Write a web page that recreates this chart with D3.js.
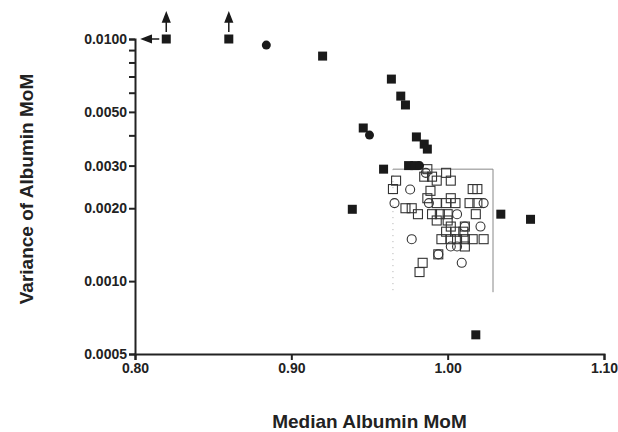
<!DOCTYPE html>
<html>
<head>
<meta charset="utf-8">
<script src="https://cdn.jsdelivr.net/npm/d3@7"></script>
<style>
    body { margin: 0; background: #fff; }
    svg { display: block; }
    .axis text { font-family: "Liberation Sans", Arial, sans-serif; font-weight: bold; font-size: 14px; fill: #222; }
    .axis path, .axis line { stroke: #222; stroke-width: 2px; }
    .title { font-family: "Liberation Sans", Arial, sans-serif; font-weight: bold; font-size: 19px; fill: #222; }
</style>
</head>
<body>
<div id="chart_panel"></div>
<script>

// axis ticks
const xTicks = [0.80, 0.90, 1.00, 1.10];
const yTicks = [0.0005, 0.0010, 0.0020, 0.0030, 0.0050, 0.0100];
const yMinorTicks = [0.004, 0.006, 0.007, 0.008, 0.009];

// [median MoM, variance]
const filledSquares = [
    [0.820, 0.0100], [0.860, 0.0100], [0.920, 0.0085], [0.964, 0.00683],
    [0.970, 0.00581], [0.973, 0.00534], [0.946, 0.00429], [0.980, 0.00394],
    [0.985, 0.00368], [0.987, 0.00351], [0.959, 0.0029], [0.975, 0.0030],
    [0.979, 0.0030], [0.939, 0.00198], [1.034, 0.00189], [1.053, 0.0018],
    [1.018, 0.0006]
];
const filledCircles = [
    [0.884, 0.00944], [0.950, 0.00401], [0.982, 0.0030]
];
const openSquares = [
    [0.987, 0.0029], [0.999, 0.0028], [0.967, 0.0026], [0.985, 0.0027],
    [0.990, 0.0027], [0.993, 0.0026], [1.002, 0.0026], [0.965, 0.0024],
    [0.989, 0.00236], [1.016, 0.0024], [1.019, 0.0024], [0.987, 0.0022],
    [1.002, 0.0022], [0.973, 0.0020], [0.977, 0.0020], [0.981, 0.00189],
    [0.993, 0.0021], [0.999, 0.0021], [1.005, 0.0021], [1.014, 0.0021],
    [1.019, 0.0021], [0.990, 0.00189], [0.995, 0.00189], [1.000, 0.00189],
    [1.018, 0.00189], [0.993, 0.00178], [1.000, 0.00178], [1.002, 0.00168],
    [1.011, 0.00168], [0.999, 0.0016], [1.005, 0.0016], [1.010, 0.0016],
    [0.996, 0.00149], [1.002, 0.00149], [1.006, 0.00149], [1.011, 0.00149],
    [1.016, 0.00149], [1.023, 0.00149], [1.011, 0.00139], [0.994, 0.00129],
    [0.984, 0.00119], [0.982, 0.00109]
];
const openCircles = [
    [0.976, 0.00239], [0.966, 0.0021], [0.988, 0.0021], [1.006, 0.00189],
    [1.023, 0.0021], [1.021, 0.00168], [0.977, 0.00149], [1.002, 0.00139],
    [1.006, 0.00139], [1.009, 0.00119], [1.011, 0.00168], [0.994, 0.00129],
    [0.986, 0.0028]
];

// points off scale (drawn with arrows)
const offScaleUp = [[0.820, 0.0100], [0.860, 0.0100]];
const offScaleLeft = [[0.820, 0.0100]];

// reference box
const refBoxX = [0.965, 1.029];
const refBoxY = [0.0009, 0.0029];

let width = 618, height = 432;
let margin = {left: 135, right: 14, top: 39, bottom: 78};

let svg = d3.select('#chart_panel')
    .append('svg')
    .attr('width', width)
    .attr('height', height);

let x = d3.scaleLinear()
    .domain([xTicks[0], xTicks[xTicks.length - 1]])
    .range([margin.left, width - margin.right]);

let y = d3.scaleLog()
    .domain([yTicks[0], yTicks[yTicks.length - 1]])
    .range([height - margin.bottom, margin.top]);

//reference box: top and right solid, left dotted
let bx0 = x(refBoxX[0]), bx1 = x(refBoxX[1]);
let by0 = y(refBoxY[1]), by1 = y(refBoxY[0]);
svg.append('path')
    .attr('d', `M${bx0},${by0}H${bx1}V${by1}`)
    .style('fill', 'none')
    .style('stroke', '#888')
    .style('stroke-width', 1);
svg.append('line')
    .attr('x1', bx0).attr('x2', bx0)
    .attr('y1', by0).attr('y2', by1)
    .style('stroke', '#aaa')
    .style('stroke-width', 1)
    .style('stroke-dasharray', '1,5');

//axes
svg.append('g')
    .attr('class', 'axis axis--x')
    .attr('transform', 'translate(0,' + (height - margin.bottom) + ')')
    .call(d3.axisBottom(x).tickValues(xTicks).tickFormat(d3.format('.2f')).tickSizeOuter(0).tickSize(6));

svg.append('g')
    .attr('class', 'axis axis--y')
    .attr('transform', 'translate(' + margin.left + ',0)')
    .call(d3.axisLeft(y)
        .tickValues(yTicks.concat(yMinorTicks))
        .tickFormat(d => yTicks.includes(d) ? d3.format('.4f')(d) : '')
        .tickSizeOuter(0)
        .tickSize(6)
        .tickPadding(2));

let s = 9;

//open markers
svg.append('g').selectAll('rect')
    .data(openSquares)
    .enter()
    .append('rect')
    .attr('x', d => x(d[0]) - s / 2)
    .attr('y', d => y(d[1]) - s / 2)
    .attr('width', s)
    .attr('height', s)
    .style('fill', 'none')
    .style('stroke', '#333')
    .style('stroke-width', 1.1);

svg.append('g').selectAll('circle')
    .data(openCircles)
    .enter()
    .append('circle')
    .attr('cx', d => x(d[0]))
    .attr('cy', d => y(d[1]))
    .attr('r', s / 2)
    .style('fill', 'none')
    .style('stroke', '#333')
    .style('stroke-width', 1.1);

//filled markers
svg.append('g').selectAll('rect')
    .data(filledSquares)
    .enter()
    .append('rect')
    .attr('x', d => x(d[0]) - s / 2)
    .attr('y', d => y(d[1]) - s / 2)
    .attr('width', s)
    .attr('height', s)
    .style('fill', '#1a1a1a');

svg.append('g').selectAll('circle')
    .data(filledCircles)
    .enter()
    .append('circle')
    .attr('cx', d => x(d[0]))
    .attr('cy', d => y(d[1]))
    .attr('r', s / 2)
    .style('fill', '#1a1a1a');

//arrows for values beyond the axis
svg.append('g').selectAll('path')
    .data(offScaleUp)
    .enter()
    .append('path')
    .attr('d', d => {
        let cx = x(d[0]), cy = y(d[1]);
        return `M${cx},${cy - 7}V${cy - 18}M${cx - 3.5},${cy - 17}L${cx},${cy - 26}L${cx + 3.5},${cy - 17}Z`;
    })
    .style('fill', '#1a1a1a')
    .style('stroke', '#1a1a1a')
    .style('stroke-width', 1.5);

svg.append('g').selectAll('path')
    .data(offScaleLeft)
    .enter()
    .append('path')
    .attr('d', d => {
        let cx = x(d[0]), cy = y(d[1]);
        return `M${cx - 7},${cy}H${cx - 16}M${cx - 15},${cy - 3.5}L${cx - 24},${cy}L${cx - 15},${cy + 3.5}Z`;
    })
    .style('fill', '#1a1a1a')
    .style('stroke', '#1a1a1a')
    .style('stroke-width', 1.5);

//axis titles
svg.append('text')
    .attr('class', 'title')
    .attr('x', (margin.left + width - margin.right) / 2)
    .attr('y', height - 4)
    .attr('text-anchor', 'middle')
    .text('Median Albumin MoM');

svg.append('text')
    .attr('class', 'title')
    .attr('transform', 'translate(33,' + 189 + ') rotate(-90)')
    .attr('text-anchor', 'middle')
    .text('Variance of Albumin MoM');

</script>
</body>
</html>
